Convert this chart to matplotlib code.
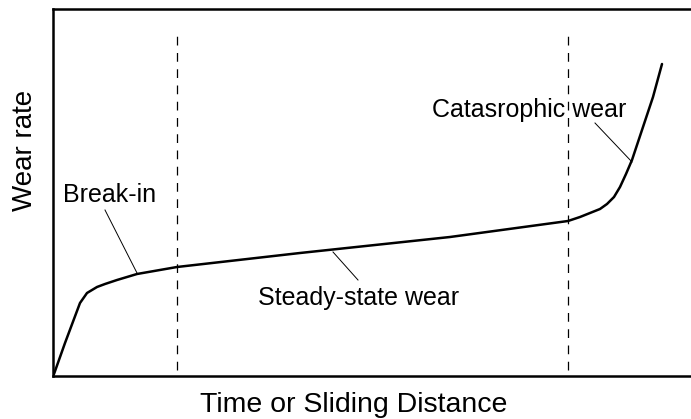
import matplotlib.pyplot as plt

plt.rcParams['font.family'] = ['Liberation Sans', 'DejaVu Sans']

# wear curve (arbitrary units)
dist = [1, 12, 27, 34, 44, 52, 64, 84, 124, 247, 397, 515, 527, 537, 547, 554, 561, 567, 573, 579, 590, 600, 609]
wear = [2, 33, 73, 83, 89, 92, 96, 102, 109, 123, 139, 155, 159, 163, 167, 172, 179, 189, 202, 216, 249, 279, 312]

phase_bounds = [124, 515]
labels = ['Break-in', 'Steady-state wear', 'Catasrophic wear']
label_pos = [(10, 174), (205, 71), (379, 259)]
leader_from = [(52, 166), (305, 96), (542, 253)]
leader_to = [(84, 103), (280, 124), (579, 214)]

fig = plt.figure(figsize=(6.91, 4.19), dpi=100)
ax = fig.add_axes([53 / 691, 43 / 419, 638 / 691, 367 / 419])

ax.plot(dist, wear, color='black', lw=1.8, solid_capstyle='round')
for xb in phase_bounds:
    ax.plot([xb, xb], [6, 346], color='black', lw=0.9, dashes=(7, 6))

for txt, (tx, ty), p0, p1 in zip(labels, label_pos, leader_from, leader_to):
    ax.text(tx, ty, txt, fontsize=18, va='baseline', ha='left')
    ax.plot([p0[0], p1[0]], [p0[1], p1[1]], color='black', lw=0.7)

ax.set_xlim(0, 638)
ax.set_ylim(0, 367)
ax.set_xticks([])
ax.set_yticks([])
ax.spines['right'].set_visible(False)
for s in ['left', 'top', 'bottom']:
    ax.spines[s].set_linewidth(1.8)

fig.text(200 / 691, 1 - 412 / 419, 'Time or Sliding Distance', fontsize=20.5,
         ha='left', va='baseline')
fig.text(25 / 691, 1 - 150 / 419, 'Wear rate', fontsize=20, rotation=90,
         ha='center', va='center')

fig.savefig('out.png', dpi=100)
